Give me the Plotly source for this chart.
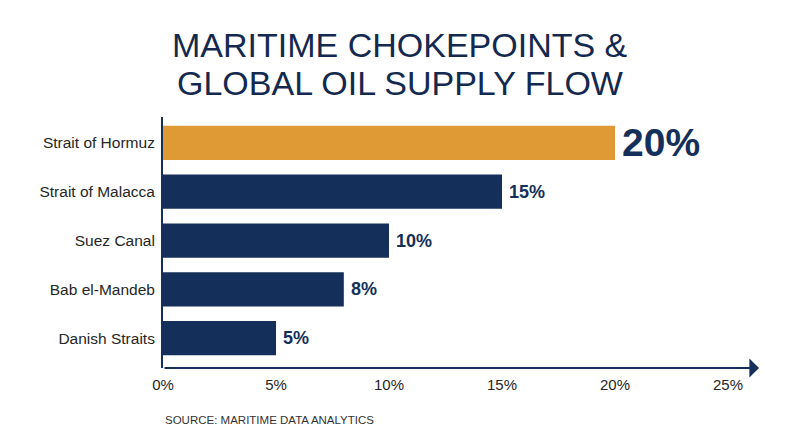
import plotly.graph_objects as go

categories = ["Strait of Hormuz", "Strait of Malacca", "Suez Canal", "Bab el-Mandeb", "Danish Straits"]
shares = [20, 15, 10, 8, 5]
value_labels = ["20%", "15%", "10%", "8%", "5%"]
tick_values = [0, 5, 10, 15, 20, 25]
tick_labels = ["0%", "5%", "10%", "15%", "20%", "25%"]

NAVY = "#14305A"
ORANGE = "#E09A35"
TITLE_COLOR = "#14294F"
bar_colors = [ORANGE] + [NAVY] * (len(categories) - 1)
label_sizes = [39] + [18] * (len(categories) - 1)

W, H = 800, 447
L, R, T, B = 163, 41, 117, 79
PW, PH = W - L - R, H - T - B
X_MAX = 26.37


def px_x(p):
    return (p - L) / PW


def px_y(p):
    return (H - B - p) / PH


fig = go.Figure(go.Bar(
    x=shares, y=categories, orientation="h",
    marker=dict(color=bar_colors, line=dict(width=0)),
    width=0.7, hoverinfo="skip",
))

annotations = []
for cat, v, lab, sz in zip(categories, shares, value_labels, label_sizes):
    annotations.append(dict(
        x=v, y=cat, xref="x", yref="y", text=f"<b>{lab}</b>", showarrow=False,
        xanchor="left", yanchor="middle", xshift=5,
        font=dict(size=sz, color=NAVY, family="Liberation Sans, Arial, sans-serif"),
    ))

# axis arrow
annotations.append(dict(
    x=1, y=0, xref="x domain", yref="y domain", ax=0, ay=0, axref="x domain", ayref="y domain",
    showarrow=True, arrowhead=1, arrowsize=1.6, arrowwidth=2, arrowcolor=NAVY, text="",
))

# title lines
annotations.append(dict(
    x=px_x(400), y=px_y(45), xref="paper", yref="paper", showarrow=False,
    text="MARITIME CHOKEPOINTS &", xanchor="center", yanchor="middle",
    font=dict(size=34, color=TITLE_COLOR, family="Liberation Sans, Arial, sans-serif"),
))
annotations.append(dict(
    x=px_x(400), y=px_y(83), xref="paper", yref="paper", showarrow=False,
    text="GLOBAL OIL SUPPLY FLOW", xanchor="center", yanchor="middle",
    font=dict(size=34, color=TITLE_COLOR, family="Liberation Sans, Arial, sans-serif"),
))
# source
annotations.append(dict(
    x=0, y=px_y(420), xref="paper", yref="paper", showarrow=False,
    text="SOURCE: MARITIME DATA ANALYTICS", xanchor="left", yanchor="middle",
    font=dict(size=11.5, color="#333333", family="Liberation Sans, Arial, sans-serif"),
))

fig.update_layout(
    width=W, height=H,
    margin=dict(l=L, r=R, t=T, b=B, pad=0),
    paper_bgcolor="white", plot_bgcolor="white",
    showlegend=False,
    annotations=annotations,
    font=dict(family="Liberation Sans, Arial, sans-serif", color="#262626"),
)
fig.update_xaxes(
    range=[0, X_MAX], tickvals=tick_values, ticktext=tick_labels,
    showgrid=False, zeroline=False, showline=False,
    tickfont=dict(size=15, color="#262626"), ticks="", ticklabelstandoff=6,
    fixedrange=True,
)
fig.update_yaxes(
    categoryorder="array", categoryarray=categories,
    range=[4.61, -0.53], showgrid=False, zeroline=False,
    showline=True, linecolor=NAVY, linewidth=2,
    tickfont=dict(size=15.5, color="#262626"), ticks="", ticklabelstandoff=3,
    fixedrange=True,
)

fig.write_html(
    "out.html",
    post_script="document.body.style.margin='0';document.body.style.padding='0';",
    config={"displayModeBar": False},
)
